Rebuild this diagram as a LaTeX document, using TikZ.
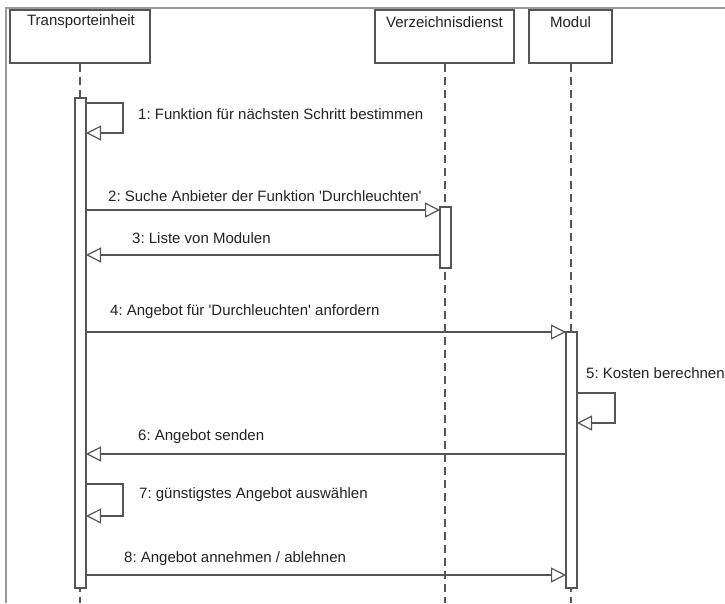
\documentclass[tikz,border=0pt]{standalone}
\usepackage{fontspec}
\setmainfont{Liberation Sans}
\usetikzlibrary{arrows.meta}
\definecolor{lc}{HTML}{555555}
\definecolor{tc}{HTML}{222222}
\definecolor{fc}{HTML}{9A9A9A}
\frenchspacing
\begin{document}
\begin{tikzpicture}[x=1pt,y=-1pt,
  font=\fontsize{15}{17}\selectfont,
  objbox/.style={draw=lc,line width=1.4pt,fill=white,rectangle,minimum height=53pt,inner sep=0pt},
  objtext/.style={text=tc,inner sep=0pt},
  lifeline/.style={draw=lc,line width=1.2pt,dash pattern=on 8pt off 5pt},
  actbar/.style={draw=lc,line width=1.2pt,fill=white,rectangle,minimum width=11pt,inner sep=0pt},
  msg/.style={draw=lc,line width=1.4pt,-{Triangle[open,length=15pt,width=15pt,line width=1.2pt]}},
  lbl/.style={text=tc,inner sep=0pt,anchor=west}]
\useasboundingbox (0,0) rectangle (725,603);
% frame
\draw[fc,line width=1.2pt] (6,603) -- (6,8) -- (725,8);
% object boxes
\node[objbox,minimum width=140pt] (T) at (80,36.5) {};
\node[objbox,minimum width=139pt] (V) at (444.5,36.5) {};
\node[objbox,minimum width=83pt] (M) at (570.5,36.5) {};
\node[objtext] (Tt) at (81,22) {Transporteinheit};
\node[objtext] (Vt) at (444.5,22) {Verzeichnisdienst};
\node[objtext] (Mt) at (570.5,22) {Modul};
% lifelines
\coordinate (Tend) at (80,603);
\coordinate (Vend) at (445,603);
\coordinate (Mend) at (571,603);
\draw[lifeline] (T.south -| Tend) -- (Tend);
\draw[lifeline] (V.south -| Vend) -- (Vend);
\draw[lifeline] (M.south -| Mend) -- (Mend);
% activation bars
\node[actbar,minimum height=490pt] (TB) at (80.5,343) {};
\node[actbar,minimum height=61pt] (VB) at (445.5,237.5) {};
\node[actbar,minimum height=256pt] (MB) at (571.5,460) {};
% message 1 (self)
\coordinate (m1a) at (86,103);
\coordinate (m1b) at (123,103);
\coordinate (m1c) at (123,133);
\coordinate (m1d) at (86,133);
\draw[msg] (m1a) -- (m1b) -- (m1c) -- (m1d);
\node[lbl] (l1) at (138,114) {1: Funktion für nächsten Schritt bestimmen};
% message 2
\coordinate (m2a) at (86,210);
\coordinate (m2b) at (440,210);
\draw[msg] (m2a) -- (m2b);
\node[lbl] (l2) at (108,196) {2: Suche Anbieter der Funktion \textquotesingle Durchleuchten\textquotesingle};
% message 3
\coordinate (m3a) at (440,255);
\coordinate (m3b) at (86,255);
\draw[msg] (m3a) -- (m3b);
\node[lbl] (l3) at (132,238) {3: Liste von Modulen};
% message 4
\coordinate (m4a) at (86,332);
\coordinate (m4b) at (566,332);
\draw[msg] (m4a) -- (m4b);
\node[lbl] (l4) at (110,312) {4: Angebot für \textquotesingle Durchleuchten\textquotesingle{} anfordern};
% message 5 (self)
\coordinate (m5a) at (577,393);
\coordinate (m5b) at (615,393);
\coordinate (m5c) at (615,423);
\coordinate (m5d) at (577,423);
\draw[msg] (m5a) -- (m5b) -- (m5c) -- (m5d);
\node[lbl] (l5) at (586,373) {5: Kosten berechnen};
% message 6
\coordinate (m6a) at (566,454);
\coordinate (m6b) at (86,454);
\draw[msg] (m6a) -- (m6b);
\node[lbl] (l6) at (138,437) {6: Angebot senden};
% message 7 (self)
\coordinate (m7a) at (86,484);
\coordinate (m7b) at (123,484);
\coordinate (m7c) at (123,516);
\coordinate (m7d) at (86,516);
\draw[msg] (m7a) -- (m7b) -- (m7c) -- (m7d);
\node[lbl] (l7) at (139,495) {7: günstigstes Angebot auswählen};
% message 8
\coordinate (m8a) at (86,575);
\coordinate (m8b) at (566,575);
\draw[msg] (m8a) -- (m8b);
\node[lbl] (l8) at (124,559) {8: Angebot annehmen / ablehnen};
\end{tikzpicture}
\end{document}
